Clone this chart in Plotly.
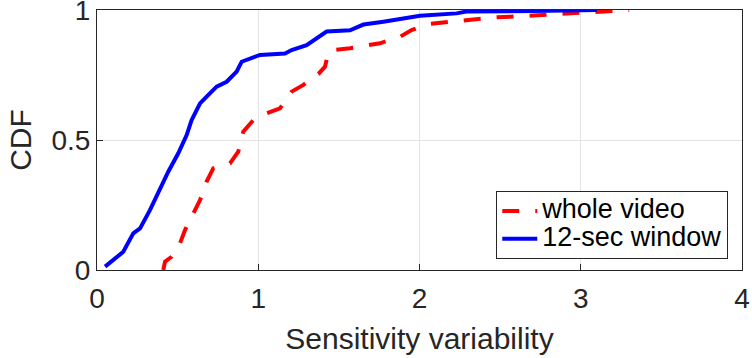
import plotly.graph_objects as go

# 12-sec window (blue, solid)
win_x = [0.05, 0.11, 0.163, 0.225, 0.267, 0.329, 0.38, 0.442, 0.504, 0.556, 0.587, 0.639, 0.68,
         0.742, 0.804, 0.866, 0.897, 1.011, 1.166, 1.207, 1.3, 1.362, 1.424, 1.569, 1.652, 1.776,
         1.921, 2.003, 2.23, 2.29, 2.7, 3.1]
win_y = [0.013, 0.045, 0.07, 0.141, 0.16, 0.231, 0.301, 0.378, 0.449, 0.519, 0.577, 0.641, 0.667,
         0.705, 0.724, 0.763, 0.801, 0.827, 0.833, 0.846, 0.865, 0.891, 0.917, 0.922, 0.944, 0.955,
         0.968, 0.978, 0.987, 0.994, 0.996, 1.0]

# whole video (red, dashed)
whole_x = [0.411, 0.422, 0.463, 0.515, 0.546, 0.597, 0.639, 0.68, 0.721, 0.825, 0.876, 0.907, 0.97,
           1.052, 1.135, 1.207, 1.28, 1.373, 1.414, 1.434, 1.466, 1.569, 1.755, 1.879, 1.951, 2.055,
           2.148, 2.273, 2.468, 2.56, 2.675, 2.768, 2.88, 2.975, 3.088, 3.18, 3.3]
whole_y = [0.0, 0.032, 0.051, 0.103, 0.154, 0.218, 0.269, 0.34, 0.391, 0.41, 0.455, 0.532, 0.577,
           0.603, 0.622, 0.686, 0.712, 0.754, 0.782, 0.835, 0.846, 0.853, 0.872, 0.897, 0.923, 0.946,
           0.952, 0.962, 0.972, 0.974, 0.978, 0.981, 0.983, 0.985, 0.99, 0.993, 1.0]

x_ticks = [0, 1, 2, 3, 4]
y_ticks = [0, 0.5, 1]
y_tick_text = ["0", "0.5", "1"]
series_names = ["whole video", "12-sec window"]

FONT = "Liberation Sans, Arial, Helvetica"
TXT = "#262626"

def legend_label(s):
    return '<span style="font-size:27px">' + s + '</span>'

fig = go.Figure()
fig.add_trace(go.Scatter(x=whole_x, y=whole_y, mode="lines", name=legend_label(series_names[0]),
                         line=dict(color="#ff0000", width=4, dash="17px,16px")))
fig.add_trace(go.Scatter(x=win_x, y=win_y, mode="lines", name=legend_label(series_names[1]),
                         line=dict(color="#0000ff", width=4)))

axis_common = dict(showline=True, linecolor=TXT, linewidth=1, mirror=True,
                   ticks="inside", ticklen=6, tickcolor=TXT,
                   showgrid=True, gridcolor="#e3e3e3", gridwidth=1, zeroline=False,
                   ticklabeloverflow="allow", automargin=False,
                   tickfont=dict(family=FONT, size=28, color=TXT))

fig.update_layout(
    width=752, height=358,
    margin=dict(l=97, r=10, t=10, b=88),
    paper_bgcolor="white", plot_bgcolor="white",
    font=dict(family=FONT, color=TXT),
    xaxis=dict(range=[0, 4], tickvals=x_ticks, ticktext=[str(v) for v in x_ticks],
               ticklabelstandoff=3,
               title=dict(text="Sensitivity variability", font=dict(family=FONT, size=30, color=TXT), standoff=15),
               **axis_common),
    yaxis=dict(range=[0, 1], tickvals=y_ticks, ticktext=y_tick_text,
               title=dict(text="CDF", font=dict(family=FONT, size=30, color=TXT), standoff=10),
               **axis_common),
    legend=dict(x=0.619, y=0.042, xanchor="left", yanchor="bottom",
                bgcolor="white", bordercolor=TXT, borderwidth=1,
                font=dict(family=FONT, size=19, color="#000000"),
                itemwidth=35, tracegroupgap=0),
    showlegend=True,
)

fig.write_html("out.html")
